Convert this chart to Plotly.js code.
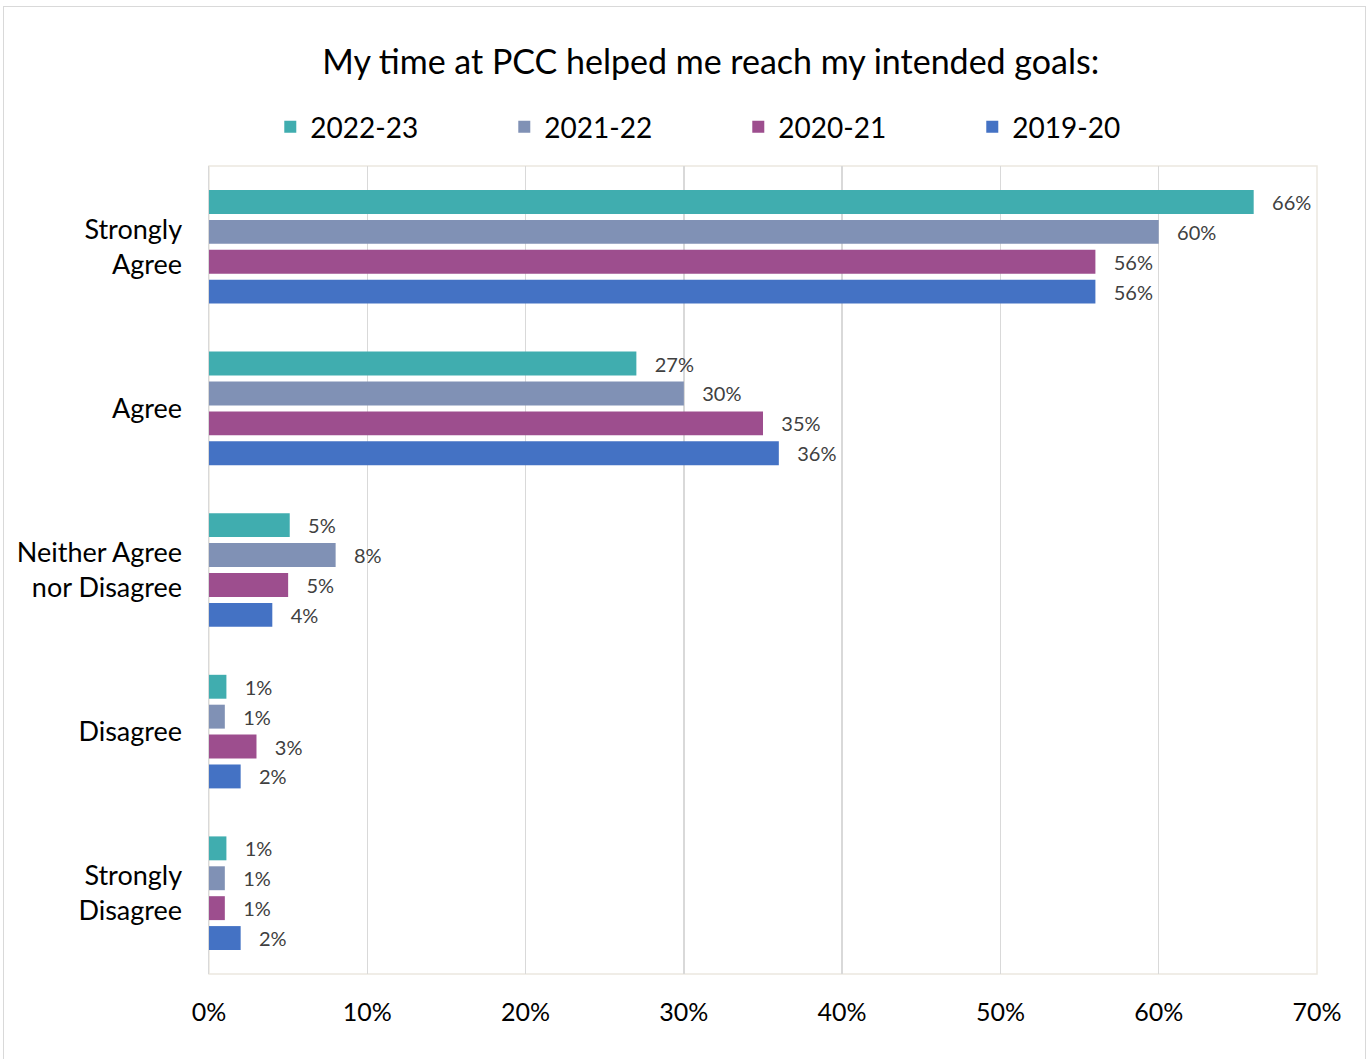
<!DOCTYPE html>
<html>
<head>
<meta charset="utf-8">
<script src="https://cdn.plot.ly/plotly-3.0.1.min.js"></script>
<style>
  html, body { margin: 0; padding: 0; background: #ffffff; overflow: hidden; }
  #frame { position: absolute; left: 3px; top: 6px; width: 1363px; height: 1070px; border: 1.5px solid #d9d9d9; box-sizing: border-box; }
  #chart { position: absolute; left: 0; top: 0; width: 1372px; height: 1059px; }
</style>
</head>
<body>
<div id="frame"></div>
<div id="chart"></div>
<script>
const categories = ["Strongly Agree", "Agree", "Neither Agree nor Disagree", "Disagree", "Strongly Disagree"];
const categoryLabels = ["Strongly<br>Agree", "Agree", "Neither Agree<br>nor Disagree", "Disagree", "Strongly<br>Disagree"];
const seriesNames = ["2022-23", "2021-22", "2020-21", "2019-20"];
const values2223 = [0.66, 0.27, 0.051, 0.011, 0.011];
const values2122 = [0.60, 0.30, 0.08, 0.010, 0.010];
const values2021 = [0.56, 0.35, 0.05, 0.03, 0.010];
const values1920 = [0.56, 0.36, 0.04, 0.02, 0.02];
const seriesColors = ["#40ADAF", "#8091B5", "#9D4E8E", "#4472C4"];
const xTicks = [0, 0.1, 0.2, 0.3, 0.4, 0.5, 0.6, 0.7];

const FONT = "Lato, 'Open Sans', sans-serif";
const allValues = [values2223, values2122, values2021, values1920];

const traces = allValues.map((vals, i) => ({
  type: "bar",
  orientation: "h",
  name: seriesNames[i],
  y: categories,
  x: vals,
  marker: { color: seriesColors[i], line: { width: 0 } },
  texttemplate: "\u00a0\u00a0\u00a0%{x:.0%}",
  textposition: "outside",
  constraintext: "none",
  cliponaxis: false,
  textfont: { family: FONT, size: 20, color: "#404040" },
  hoverinfo: "none"
}));

const layout = {
  width: 1372,
  height: 1059,
  paper_bgcolor: "rgba(0,0,0,0)",
  plot_bgcolor: "#ffffff",
  margin: { l: 209, r: 55, t: 166, b: 85, pad: 0 },
  font: { family: FONT, color: "#000000" },
  barmode: "group",
  bargap: 0.26,
  bargroupgap: 0.2,
  title: {
    text: "My time at PCC helped me reach my intended goals:",
    font: { family: FONT, size: 34, color: "#000000" },
    x: 0.518, xref: "container", xanchor: "center",
    y: 0.9415, yref: "container", yanchor: "middle"
  },
  showlegend: true,
  legend: {
    orientation: "h",
    x: 0.197, xref: "container", xanchor: "left",
    y: 0.88, yref: "container", yanchor: "middle",
    font: { family: FONT, size: 28, color: "#000000" },
    entrywidth: 189,
    traceorder: "normal",
    bgcolor: "rgba(0,0,0,0)"
  },
  xaxis: {
    range: [0, 0.7],
    tickvals: xTicks,
    tickformat: ".0%",
    showgrid: true,
    gridcolor: "#d9d9d9",
    gridwidth: 1.5,
    zeroline: false,
    showline: false,
    ticks: "",
    ticklabelstandoff: 21,
    tickfont: { family: FONT, size: 25, color: "#000000" },
    fixedrange: true
  },
  yaxis: {
    type: "category",
    autorange: "reversed",
    tickvals: categories,
    ticktext: categoryLabels,
    showgrid: false,
    zeroline: false,
    showline: true,
    linecolor: "#d9d9d9",
    linewidth: 1.5,
    ticks: "",
    ticklabelstandoff: 20,
    tickfont: { family: FONT, size: 27, color: "#000000" },
    fixedrange: true
  },
  shapes: [{
    type: "rect", xref: "paper", yref: "paper",
    x0: 0, x1: 1, y0: 0, y1: 1,
    line: { color: "#ECE8DF", width: 1.5 },
    layer: "below"
  }]
};

Plotly.newPlot("chart", traces, layout, { displayModeBar: false, staticPlot: true });
</script>
</body>
</html>
